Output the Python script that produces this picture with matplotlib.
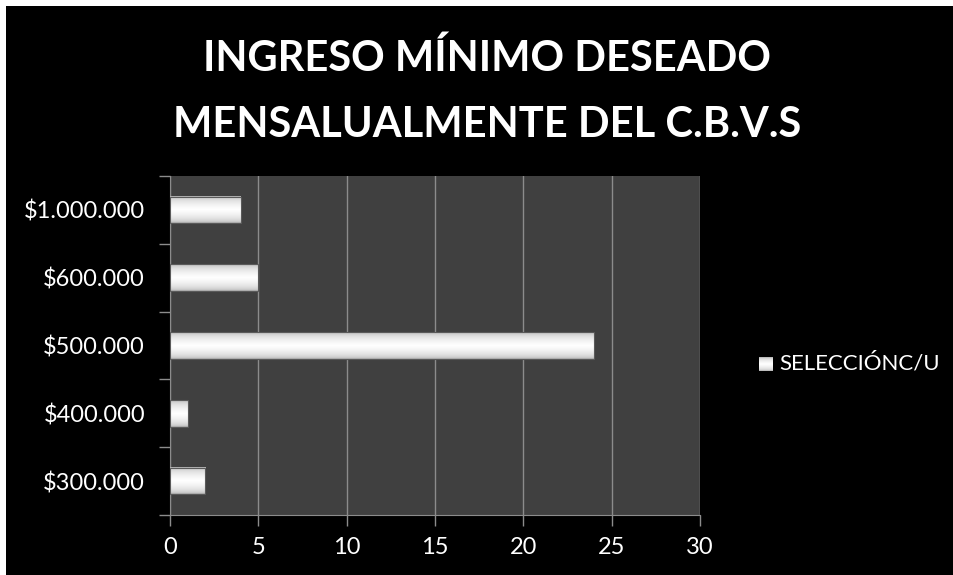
import numpy as np
import matplotlib.pyplot as plt
from matplotlib.patches import Rectangle

categorias = ['$300.000', '$400.000', '$500.000', '$600.000', '$1.000.000']
valores = [2, 1, 24, 5, 4]
serie = 'SELECCIÓNC/U'
titulo = 'INGRESO MÍNIMO DESEADO\nMENSALUALMENTE DEL C.B.V.S'

plt.rcParams['font.family'] = ['Lato', 'DejaVu Sans']

fig = plt.figure(figsize=(9.54, 5.75), dpi=100, facecolor='white')
# fondo negro (con el borde blanco arriba/izquierda)
fig.patches.append(Rectangle((6 / 954, 0), 1, 1 - 6 / 575, transform=fig.transFigure,
                             facecolor='black', edgecolor='none', zorder=-10))

ax = fig.add_axes([170 / 954, 1 - 515 / 575, 530 / 954, 339 / 575])
ax.set_facecolor('#404040')

y = np.arange(len(categorias))
h = 0.39
bars = ax.barh(y, valores, height=h, color='none', edgecolor='none', zorder=3)

# degradado vertical de gris a blanco en cada barra
grad = np.concatenate([np.linspace(0, 1, 50), np.linspace(1, 0, 50)]) ** 0.3
grad = np.clip(0.58 + 0.42 * grad, 0, 1)
img = np.dstack([grad, grad, grad]).reshape(100, 1, 3)
for b in bars:
    x0, y0 = b.get_x(), b.get_y()
    ax.imshow(img, extent=(x0, x0 + b.get_width(), y0, y0 + b.get_height()),
              aspect='auto', zorder=3, interpolation='bilinear')
    ax.add_patch(Rectangle((x0, y0), b.get_width(), b.get_height(), fill=False,
                           edgecolor='#5a5a5a', linewidth=0.8, zorder=4))

ax.set_xlim(0, 30)
ax.set_ylim(-0.5, len(categorias) - 0.5)
ax.set_xticks(range(0, 31, 5))
ax.set_yticks(y)
ax.set_yticklabels(categorias)
ax.set_yticks(np.arange(-0.5, len(categorias), 1), minor=True)
ax.tick_params(axis='y', which='major', length=0, pad=18, labelsize=17, colors='white')
ax.tick_params(axis='y', which='minor', length=8, color='#8c8c8c', width=1)
ax.tick_params(axis='x', length=8, color='#8c8c8c', width=1, pad=8,
               labelsize=17, labelcolor='white')
ax.grid(axis='x', color='#8c8c8c', linewidth=1, zorder=1)
for s in ['top', 'right']:
    ax.spines[s].set_visible(False)
for s in ['left', 'bottom']:
    ax.spines[s].set_color('#8c8c8c')

fig.text(487 / 954, 1 - 91 / 575, titulo, ha='center', va='center', color='white',
         fontsize=30, fontweight='bold', linespacing=1.9)

# leyenda
lax = fig.add_axes([759 / 954, 1 - 371 / 575, 14 / 954, 14 / 575])
lax.imshow(img, aspect='auto', extent=(0, 1, 0, 1))
lax.axis('off')
fig.text(779 / 954, 1 - 363 / 575, serie, ha='left', va='center', color='white',
         fontsize=16)

fig.savefig('out.png', dpi=100, facecolor=fig.get_facecolor())
